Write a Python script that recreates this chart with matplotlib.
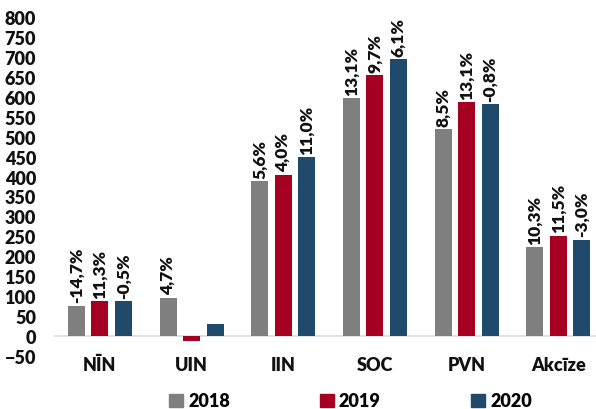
import matplotlib
matplotlib.use("Agg")
import matplotlib.pyplot as plt
import numpy as np
from matplotlib.patches import Patch

categories = ["NĪN", "UIN", "IIN", "SOC", "PVN", "Akcīze"]
years = ["2018", "2019", "2020"]
values_2018 = [76, 96, 388, 596, 519, 223]
values_2019 = [87, -13, 405, 654, 586, 251]
values_2020 = [87, 31, 448, 694, 581, 241]
labels_2018 = ["-14,7%", "4,7%", "5,6%", "13,1%", "8,5%", "10,3%"]
labels_2019 = ["11,3%", "", "4,0%", "9,7%", "13,1%", "11,5%"]
labels_2020 = ["-0,5%", "", "11,0%", "6,1%", "-0,8%", "-3,0%"]
colors = ["#7F7F7F", "#A50021", "#1F4A6B"]

plt.rcParams['font.family'] = ['Lato', 'DejaVu Sans']
W_ = 'heavy'

fig = plt.figure(figsize=(5.96, 4.10), dpi=100)
W, H = 596, 410
left, right, top, bottom = 54, 596, 18, 357
ax = fig.add_axes([left / W, 1 - bottom / H, (right - left) / W, (bottom - top) / H])

x = np.arange(len(categories))
width = 0.185
step = 0.256
series = [values_2018, values_2019, values_2020]
labels = [labels_2018, labels_2019, labels_2020]
for i, (vals, labs, c) in enumerate(zip(series, labels, colors)):
    pos = x + (i - 1) * step
    ax.bar(pos, vals, width=width, color=c, zorder=2)
    for p, v, l in zip(pos, vals, labs):
        if l:
            ax.annotate(l, (p, max(v, 0)), xytext=(0, 2.5), textcoords="offset points",
                        rotation=90, ha="center", va="bottom", fontsize=12.5,
                        fontweight=W_, color="#111111")

ax.axhline(0, color="#D9D9D9", lw=1.2, zorder=1)
ax.set_ylim(-50, 800)
ax.set_xlim(-0.5, 5.41)
ax.set_yticks(np.arange(-50, 801, 50))
ax.set_xticks(x)
ax.set_xticklabels(categories)
for s in ax.spines.values():
    s.set_visible(False)
ax.tick_params(axis="both", length=0, labelsize=13, colors="#111111")
ax.tick_params(axis="y", pad=13)
ax.tick_params(axis="x", pad=0)
for t in ax.get_yticklabels() + ax.get_xticklabels():
    t.set_fontweight(W_)

handles = [Patch(color=c, label=y) for c, y in zip(colors, years)]
fig.legend(handles=handles, loc="center", bbox_to_anchor=(0.588, 1 - 402 / H), ncol=3,
           frameon=False, handlelength=0.75, handleheight=0.75,
           handletextpad=0.3, columnspacing=5.0, prop={'weight': W_, 'size': 13})

fig.savefig("out.png", dpi=100)
